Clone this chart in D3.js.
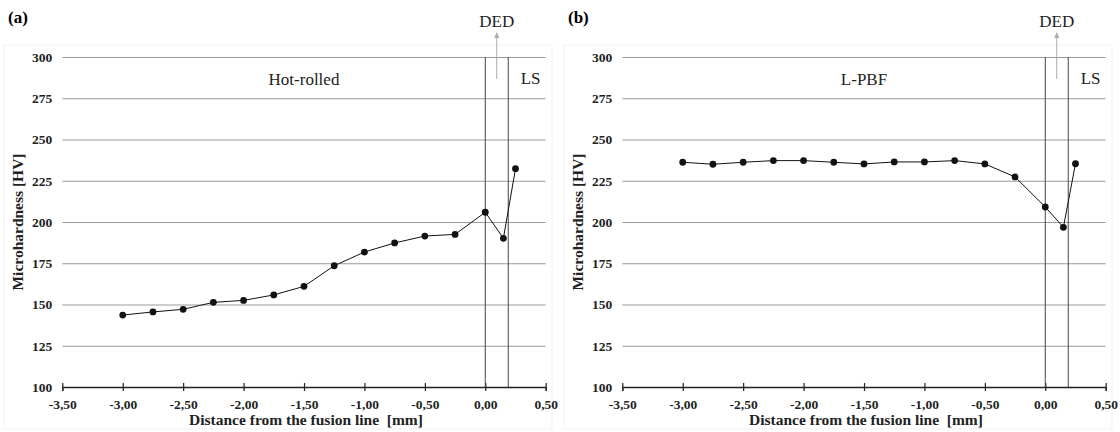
<!DOCTYPE html>
<html><head><meta charset="utf-8">
<script src="https://cdn.jsdelivr.net/npm/d3@7"></script>
<style>
body{margin:0;background:#fff;}
svg{display:block;font-family:"Liberation Serif","Times New Roman",serif;}
svg text{font-family:"Liberation Serif","Times New Roman",serif;}
</style></head><body>
<svg id="c" width="1120" height="432"></svg>
<script>
// ---- data ----
const distances = [-3.00,-2.75,-2.50,-2.25,-2.00,-1.75,-1.50,-1.25,-1.00,-0.75,-0.50,-0.25,0.00,0.15,0.25];
const hvHotRolled = [143.6,145.5,147.1,151.3,152.5,155.8,161.0,173.5,181.8,187.3,191.5,192.5,205.9,190.1,232.3];
const hvLPBF = [236.2,235.0,236.2,237.2,237.2,236.2,235.2,236.4,236.4,237.2,235.2,227.3,209.1,196.8,235.3];
const xTicks = [-3.5,-3.0,-2.5,-2.0,-1.5,-1.0,-0.5,0.0,0.5];
const yTicks = [100,125,150,175,200,225,250,275,300];
const zoneLines = [0, 0.19];
const dedArrowX = 0.095;
const panelLetters = ["(a)","(b)"];
const materialLabels = ["Hot-rolled","L-PBF"];
const xTitle = "Distance from the fusion line  [mm]";
const yTitle = "Microhardness [HV]";

const svg = d3.select("#c");
const fmt = v => v.toFixed(2).replace(".", ",");
const SERIF = '"Liberation Serif","Times New Roman",serif';

function panel(off, hv, letter, label){
  const g = svg.append("g").attr("transform", `translate(${off},0)`);
  const x = d3.scaleLinear().domain([-3.5,0.5]).range([62.3,545.7]);
  const y = d3.scaleLinear().domain([100,300]).range([387,57]);

  // faint frame
  g.append("rect").attr("x",4).attr("y",45).attr("width",548).attr("height",384)
    .attr("fill","none").attr("stroke","#f1f1f1");

  g.append("text").attr("x",8).attr("y",23).style("font-size","17px").attr("font-weight","bold")
    .text(letter);

  // gridlines
  g.append("g").attr("transform",`translate(${x.range()[0]},0)`)
    .call(d3.axisLeft(y).tickValues(yTicks.slice(1)).tickSize(-(x.range()[1]-x.range()[0])).tickFormat(""))
    .call(s=>s.select(".domain").remove())
    .call(s=>s.selectAll("line").attr("stroke","#9a9a9a").attr("stroke-width",1));

  // y labels
  g.append("g").attr("transform",`translate(${x.range()[0]},0)`)
    .call(d3.axisLeft(y).tickValues(yTicks).tickSize(0).tickPadding(10).tickFormat(d3.format("d")))
    .call(s=>s.select(".domain").remove())
    .call(s=>s.selectAll("text").style("font-family",SERIF).style("font-size","13.5px")
      .style("font-weight","bold").attr("fill","#222"));

  // x axis
  const xa = g.append("g").attr("transform",`translate(0,${y(100)})`)
    .call(d3.axisBottom(x).tickValues(xTicks).tickSize(4).tickPadding(8).tickFormat(fmt));
  xa.select(".domain").attr("stroke","#222").attr("stroke-width",1.3);
  xa.selectAll(".tick line").attr("y1",-4).attr("y2",4).attr("stroke","#222").attr("stroke-width",1.2);
  xa.selectAll("text").style("font-family",SERIF).style("font-size","13.5px")
    .style("font-weight","bold").attr("fill","#222");

  // zone lines
  g.selectAll(".zl").data(zoneLines).join("line")
    .attr("x1",d=>x(d)).attr("x2",d=>x(d)).attr("y1",y(300)).attr("y2",y(100))
    .attr("stroke","#444").attr("stroke-width",1);

  // series
  const pts = distances.map((d,i)=>[d,hv[i]]);
  g.append("path").datum(pts)
    .attr("d", d3.line().x(d=>x(d[0])).y(d=>y(d[1])))
    .attr("fill","none").attr("stroke","#111").attr("stroke-width",1);
  g.selectAll(".pt").data(pts).join("circle")
    .attr("cx",d=>x(d[0])).attr("cy",d=>y(d[1])).attr("r",3.4).attr("fill","#111");

  // annotations
  g.append("text").attr("x",x(-1.5)).attr("y",85).attr("text-anchor","middle")
    .style("font-size","17px").attr("fill","#222").text(label);
  g.append("text").attr("x",x(0.375)).attr("y",84).attr("text-anchor","middle")
    .style("font-size","17px").attr("fill","#222").text("LS");
  g.append("text").attr("x",x(dedArrowX)).attr("y",27).attr("text-anchor","middle")
    .style("font-size","17px").attr("fill","#222").text("DED");
  const ax = x(dedArrowX);
  g.append("line").attr("x1",ax).attr("x2",ax).attr("y1",79).attr("y2",37)
    .attr("stroke","#aaa").attr("stroke-width",1);
  g.append("path").attr("d",`M${ax-2.5},${38} L${ax},${32} L${ax+2.5},${38} Z`).attr("fill","#aaa");

  // titles
  g.append("text").attr("x",(x.range()[0]+x.range()[1])/2+2).attr("y",425).attr("text-anchor","middle")
    .style("font-size","15.5px").style("white-space","pre").attr("font-weight","bold").attr("fill","#222").text(xTitle);
  g.append("text").attr("transform",`translate(23,${(y(100)+y(300))/2}) rotate(-90)`)
    .attr("text-anchor","middle").style("font-size","15.5px").attr("font-weight","bold").attr("fill","#222").text(yTitle);
}

panel(0, hvHotRolled, panelLetters[0], materialLabels[0]);
panel(560, hvLPBF, panelLetters[1], materialLabels[1]);
</script></body></html>
